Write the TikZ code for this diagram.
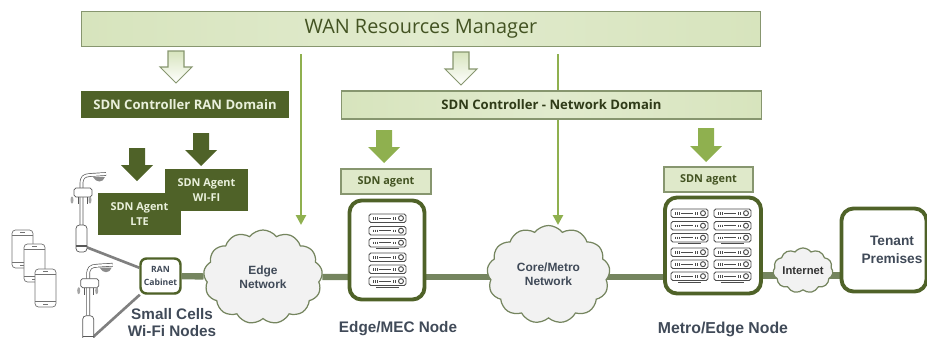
\documentclass[tikz,border=0pt]{standalone}
\usepackage{fontspec}
\setmainfont{Open Sans}
\newfontfamily\arialfont{Liberation Sans}
\usetikzlibrary{shapes}
\usetikzlibrary{arrows.meta}
\usetikzlibrary{backgrounds}
\usetikzlibrary{shadows}

\definecolor{darkgreen}{HTML}{4F6228}
\definecolor{midgreen}{HTML}{8FB04F}
\definecolor{palegreen}{HTML}{D7E4BD}
\definecolor{barborder}{HTML}{87966F}
\definecolor{linkgreen}{HTML}{75855F}
\definecolor{slatetext}{HTML}{404A58}

\newcommand{\blockarrow}[4]{
\draw[#1] ({#2-8},#3) -- ({#2+8},#3) -- ({#2+8},{#4-16}) -- ({#2+16},{#4-16}) -- (#2,#4) -- ({#2-16},{#4-16}) -- ({#2-8},{#4-16}) -- cycle;
}

\newcommand{\serverunit}[2]{
\begin{scope}[shift={(#1,#2)}]
\draw[rackline,rounded corners=1pt] (0,0) rectangle (37,8.5);
\foreach \mark in {4,6,8,24,26}{
\draw[rackline] (\mark,3) -- (\mark,5.5);
}
\draw[rackline] (10,4.2) -- (22,4.2);
\draw[rackline] (32,4.2) circle[radius=.05cm];
\end{scope}
}

\newcommand{\serverrack}[2]{
\begin{scope}[shift={(#1,#2)}]
\foreach \row in {0,12.5,24.5,39,51,63}{
\serverunit{0}{\row}
}
\draw[rackline,line width=.8pt] (7,34.5) -- (30,34.5);
\draw[rackline,line width=.8pt] (7,73.5) -- (30,73.5);
\end{scope}
}

\newcommand{\lamppost}[2]{
\begin{scope}[shift={(#1,#2)}]
\draw[lampline,double=white,double distance=.045cm] (81.5,225) -- (81.5,184) .. controls (81.5,177) and (84,175.5) .. (90,175) -- (106,174);
\fill[black!45] (93,177) -- (105,177) .. controls (103,183) and (96,183) .. (93,177);
\draw[lampline,fill=white,rounded corners=1pt] (74,188) rectangle (92,197);
\draw[lampline] (78,197) -- (78,204) (87,197) -- (87,204);
\fill[black!35] (72,200) ellipse[x radius=.03cm,y radius=.07cm];
\fill[black!35] (90,200) ellipse[x radius=.03cm,y radius=.07cm];
\draw[lampline,fill=white,rounded corners=2pt] (76,225) rectangle (87,252);
\draw[lampline,line width=.7pt] (76,246) -- (87,246);
\end{scope}
}

\newcommand{\handset}[2]{
\begin{scope}[shift={(#1,#2)}]
\draw[handline,fill=white,rounded corners=2pt] (0,0) rectangle (21,38);
\draw[handline] (0,5) -- (21,5) (0,32) -- (21,32);
\draw[handline] (8,2.5) -- (13,2.5);
\draw[handline] (8,35) -- (13,35);
\end{scope}
}

\begin{document}
\begin{tikzpicture}[x=.02cm,y=-.02cm,>=stealth,
rackline/.style={draw=black!70,line width=.55pt},
lampline/.style={draw=black!65,line width=.4pt},
handline/.style={draw=black!55,line width=.4pt},
lightbar/.style={rectangle,draw=barborder,line width=.6pt,left color=palegreen,right color=palegreen,middle color=palegreen!75!white,inner sep=0pt,text=darkgreen!85!black},
agentbox/.style={rectangle,draw=barborder,line width=.6pt,fill=palegreen!80!white,inner sep=0pt,text=darkgreen!85!black,font=\bfseries\fontsize{6.2}{7.5}\selectfont},
darkbox/.style={rectangle,fill=darkgreen,inner sep=0pt,text=palegreen!55!white,align=center,font=\bfseries\fontsize{6.2}{8.5}\selectfont},
hollowarrow/.style={draw=barborder,line width=.6pt,top color=palegreen,bottom color=white},
solidarrow/.style={fill=#1,draw=none},
sitebox/.style={rectangle,rounded corners=2.4mm,draw=darkgreen,line width=2.2pt,fill=white,inner sep=0pt,drop shadow={opacity=.3,shadow xshift=.4pt,shadow yshift=-.6pt}},
netcloud/.style={cloud,cloud puffs=13,cloud puff arc=105,cloud ignores aspect,draw=linkgreen,line width=.7pt,fill=black!5,inner sep=0pt,align=center,text=slatetext,font=\arialfont\bfseries\fontsize{6.8}{8}\selectfont},
caption/.style={inner sep=0pt,align=center,text=slatetext,font=\arialfont\bfseries\fontsize{8.7}{9.6}\selectfont},
link/.style={draw=linkgreen,line width=3.6pt},
droplink/.style={draw=black!50,line width=1.5pt},
feed/.style={draw=midgreen,line width=1.6pt,-{Triangle[width=.2cm,length=.2cm]},shorten <=.14cm},
]

\useasboundingbox (0,0) rectangle (927,338);

\node[lightbar,minimum width=13.6cm,minimum height=.7cm,font=\fontsize{11.3}{13}\selectfont](wan) at (421,29){WAN Resources Manager};

\blockarrow{hollowarrow}{176}{51}{83}
\blockarrow{hollowarrow}{461}{52}{85}

\node[darkbox,minimum width=4.16cm,minimum height=.54cm,font=\bfseries\fontsize{7.45}{9}\selectfont](ran) at (185,104.5){SDN Controller RAN Domain};

\node[lightbar,minimum width=8.42cm,minimum height=.56cm,font=\bfseries\fontsize{7.45}{9}\selectfont,text=darkgreen!60!black](net) at (551.5,105){SDN Controller - Network Domain};

\blockarrow{solidarrow=darkgreen}{137}{148}{181}
\blockarrow{solidarrow=darkgreen}{201}{133}{166}
\blockarrow{solidarrow=midgreen}{384}{130}{163}
\blockarrow{solidarrow=midgreen}{706}{128}{162}

\node[darkbox,minimum width=1.66cm,minimum height=.84cm](wifi) at (206.5,190){SDN Agent\\WI-FI};
\node[darkbox,minimum width=1.66cm,minimum height=.84cm](lte) at (139.5,214){SDN Agent\\LTE};

\node[agentbox,minimum width=1.8cm,minimum height=.5cm](mec-agent) at (386,181.5){SDN agent};
\node[agentbox,minimum width=1.78cm,minimum height=.5cm](metro-agent) at (708.5,179.5){SDN agent};

\node[sitebox,minimum width=1.5cm,minimum height=1.98cm](mec) at (387,250){};
\node[sitebox,minimum width=1.92cm,minimum height=1.92cm](metro) at (713,245.5){};
\node[sitebox,minimum width=1.7cm,minimum height=1.66cm,text=slatetext,align=center,font=\arialfont\bfseries\fontsize{7.8}{10.3}\selectfont](tenant) at (884,250){\hspace*{.32cm}Tenant\\\hspace*{.32cm}Premises};
\node[sitebox,rounded corners=1.2mm,line width=1.4pt,minimum width=.8cm,minimum height=.7cm,align=center,text=slatetext,font=\bfseries\fontsize{4.9}{7}\selectfont](cabinet) at (160.5,276){RAN\\Cabinet};

\serverrack{369}{214}
\serverrack{671}{209}
\serverrack{714}{209}

\node[netcloud,minimum width=2.38cm,minimum height=1.88cm](edge) at (263,277){Edge\\Network};
\node[netcloud,minimum width=2.46cm,minimum height=1.96cm](core) at (548.5,274.5){Core/Metro\\Network};
\node[netcloud,cloud puffs=11,minimum width=1.2cm,minimum height=.9cm,text=black!80,font=\arialfont\bfseries\fontsize{6.4}{8}\selectfont](internet) at (803,270.5){Internet};

\coordinate (edge-in) at (301,225);
\coordinate (core-in) at (558,225);
\coordinate (pole-a) at (86,247);
\coordinate (pole-b) at (92,338);
\coordinate (tail) at (803,275.5);

\begin{pgfonlayer}{background}
\draw[link] (cabinet) -- (edge);
\draw[link] (edge) -- (edge -| mec);
\draw[link] (edge -| mec) -- (edge -| core);
\draw[link] (edge -| core) -- (edge -| metro);
\draw[link] (metro |- tail) -- (internet |- tail);
\draw[link] (internet |- tail) -- (tenant |- tail);
\draw[droplink] (pole-a) -- (cabinet);
\draw[droplink] (pole-b) -- (cabinet);
\draw[feed] (wan.south -| edge-in) -- (edge-in);
\draw[feed] (wan.south -| core-in) -- (core-in);
\end{pgfonlayer}

\lamppost{0}{0}
\lamppost{6.7}{90.7}

\handset{12}{230}
\handset{24}{244}
\handset{35}{269}

\node[caption](cells) at (172,322.5){Small Cells\\Wi-Fi Nodes};
\node[caption](mec-name) at (398,329){Edge/MEC Node};
\node[caption,font=\arialfont\bfseries\fontsize{9}{10}\selectfont](metro-name) at (723,329){Metro/Edge Node};

\end{tikzpicture}
\end{document}
